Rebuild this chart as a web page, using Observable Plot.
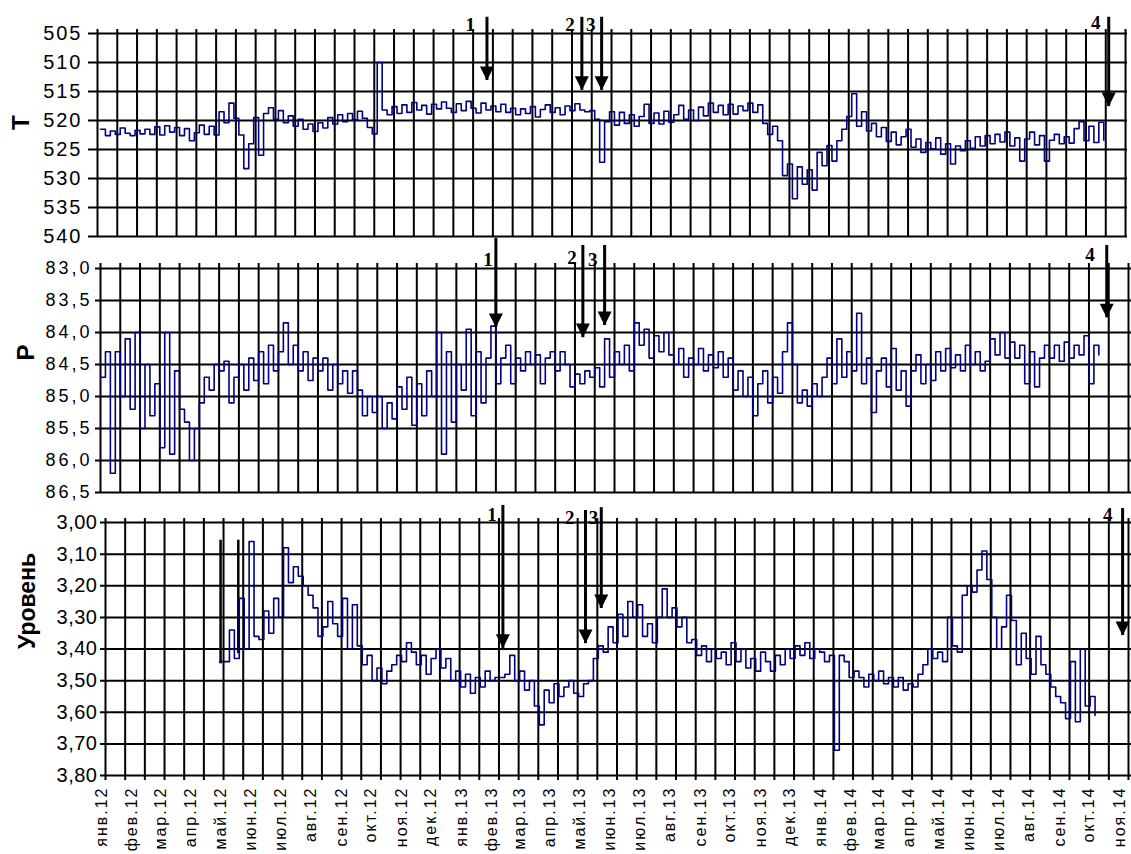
<!DOCTYPE html>
<html>
<head>
<meta charset="utf-8">
<script src="https://cdn.jsdelivr.net/npm/d3@7"></script>
<script src="https://cdn.jsdelivr.net/npm/@observablehq/plot@0.6"></script>
<style>
  body { margin: 0; background: #fff; }
  #chart { position: relative; width: 1131px; height: 854px; overflow: hidden; background: #fff; }
  #chart svg { position: absolute; left: 0; overflow: visible; }
</style>
</head>
<body>
<div id="chart"></div>
<script>
// ---------------- DATA ----------------
const startDate = "2012-01-01";   // first sample
const stepDays = 5;               // sampling step of the arrays below

// T (top panel), one value every 5 days from 2012-01-01
const tValues = [
  521.5, 522.6, 521.8, 522.4, 521.3, 522.2, 522.6, 521.7, 522.3, 521.5,
  522.4, 521.1, 522.5, 520.9, 522.0, 521.2, 522.6, 521.4, 523.5, 522.1,
  520.8, 522.4, 521.0, 522.5, 518.5, 520.4, 517.0, 519.6, 522.5, 528.3,
  524.0, 519.5, 526.0, 518.8, 517.8, 519.8, 518.3, 520.4, 519.2, 521.0,
  519.8, 521.5, 520.6, 521.9, 520.4, 521.3, 519.5, 520.6, 519.0, 520.2,
  518.8, 519.9, 518.4, 519.6, 521.2, 522.3, 510.0, 518.2, 519.0, 517.6,
  518.8, 517.3, 518.6, 516.9, 518.2, 517.4, 518.9, 517.2, 518.0, 516.8,
  517.9, 518.6, 517.1, 518.3, 516.7, 517.9, 518.7, 517.0, 518.2, 517.5,
  518.5, 517.2, 518.6, 517.9, 519.0, 518.0, 518.8, 517.6, 519.4, 518.1,
  517.3, 518.6, 517.8, 519.0, 517.5, 518.3, 517.1, 518.2, 518.5, 518.3,
  519.8, 527.2, 520.2, 518.5, 520.8, 518.6, 520.5, 519.0, 521.0, 519.3,
  517.2, 520.5, 518.7, 520.6, 518.4, 520.3, 519.0, 517.4, 519.8, 518.2,
  520.0, 517.7, 519.2, 517.0, 518.6, 517.4, 519.0, 517.2, 518.9, 517.5,
  518.3, 517.0, 518.6, 517.3, 520.5, 522.4, 521.0, 523.5, 529.5, 527.5,
  533.5, 528.0, 531.0, 528.5, 532.0, 525.5, 527.8, 524.3, 527.0, 523.5,
  521.5, 519.3, 515.4, 521.0, 518.5, 521.8, 520.5, 522.8, 521.2, 523.6,
  522.0, 524.2, 522.8, 521.5, 524.6, 523.2, 525.5, 523.8, 524.9, 523.0,
  525.8, 524.0, 527.5, 524.4, 525.2, 523.5, 524.8, 522.8, 524.4, 522.6,
  524.0, 522.4, 523.7, 522.0, 524.4, 523.0, 527.0, 523.2, 522.0, 524.2,
  522.6, 527.0, 523.4, 522.4, 524.0, 522.8, 523.9, 521.4, 520.2, 523.5,
  521.0, 523.8, 520.3, 523.4
];

// P (middle panel), one value every 5 days from 2012-01-01
const pValues = [
  84.7, 84.3, 86.2, 84.3, 85.0, 84.1, 85.2, 84.0, 85.5, 84.5,
  85.3, 84.8, 85.8, 84.0, 85.9, 84.6, 85.2, 85.4, 86.0, 85.5,
  85.1, 84.7, 84.9, 84.5, 84.6, 84.45, 85.1, 84.7, 84.5, 84.9,
  84.4, 84.75, 84.3, 84.8, 84.2, 84.6, 84.3, 83.85, 84.5, 84.2,
  84.6, 84.3, 84.75, 84.4, 84.6, 84.4, 84.9, 84.5, 84.8, 84.6,
  84.95, 84.6, 84.9, 85.3, 85.0, 85.25, 85.0, 85.5, 85.1, 85.35,
  84.85, 85.2, 84.7, 85.45, 84.8, 85.3, 84.6, 85.0, 84.0, 85.9,
  84.3, 85.4, 84.5, 84.9, 83.95, 85.3, 84.3, 85.1, 84.4, 83.9,
  84.8, 84.4, 84.2, 84.8, 84.4, 84.6, 84.3, 84.5, 84.35, 84.8,
  84.4, 84.3, 84.6, 84.3, 84.5, 84.85, 84.65, 84.8, 84.6, 84.7,
  84.55, 84.85, 84.1, 84.7, 84.3, 84.5, 84.2, 84.6, 83.85, 84.2,
  83.95, 84.4, 84.05, 84.3, 84.0, 84.35, 84.5, 84.25, 84.7, 84.4,
  84.5, 84.25, 84.6, 84.35, 84.55, 84.3, 84.7, 84.4, 84.9, 84.6,
  85.0, 84.7, 85.3, 84.8, 84.6, 85.1, 84.7, 84.95, 84.3, 83.85,
  84.5, 85.1, 84.9, 85.15, 84.8, 85.0, 84.7, 84.4, 84.8, 84.1,
  84.7, 84.3, 84.6, 83.7, 84.8, 84.4, 85.25, 84.6, 84.4, 84.85,
  84.25, 84.9, 84.6, 85.15, 84.6, 84.35, 84.8, 84.5, 84.75, 84.3,
  84.6, 84.25, 84.55, 84.35, 84.6, 84.2, 84.5, 84.3, 84.6, 84.45,
  84.1, 84.35, 84.0, 84.4, 84.15, 84.4, 84.2, 84.8, 84.3, 84.85,
  84.4, 84.2, 84.4, 84.2, 84.45, 84.15, 84.4, 84.2, 84.35, 84.05,
  84.8, 84.2, 84.35
];

// Уровень (bottom panel), starts at sample index 24 (5-day steps)
const levelStartIndex = 24;
const levelValues = [
  3.44, 3.44, 3.34, 3.43, 3.24, 3.40,
  3.06, 3.36, 3.37, 3.28, 3.35, 3.24, 3.30, 3.08, 3.19, 3.14,
  3.17, 3.20, 3.23, 3.27, 3.36, 3.33, 3.25, 3.32, 3.36, 3.24,
  3.40, 3.26, 3.39, 3.45, 3.42, 3.50, 3.46, 3.51, 3.47, 3.45,
  3.42, 3.44, 3.38, 3.41, 3.45, 3.42, 3.48, 3.43, 3.40, 3.46,
  3.43, 3.50, 3.47, 3.52, 3.48, 3.54, 3.49, 3.52, 3.47, 3.50,
  3.49, 3.49, 3.48, 3.42, 3.50, 3.47, 3.53, 3.50, 3.58, 3.64,
  3.53, 3.57, 3.51, 3.55, 3.52, 3.50, 3.54, 3.55, 3.51, 3.50,
  3.43, 3.39, 3.41, 3.33, 3.38, 3.29, 3.36, 3.25, 3.30, 3.26,
  3.36, 3.32, 3.38, 3.30, 3.21, 3.30, 3.27, 3.33, 3.30, 3.38,
  3.37, 3.42, 3.39, 3.44, 3.40, 3.43, 3.41, 3.45, 3.38, 3.44,
  3.40, 3.46, 3.43, 3.47, 3.41, 3.44, 3.47, 3.42, 3.45, 3.40,
  3.43, 3.39, 3.42, 3.38, 3.43, 3.40, 3.41, 3.44, 3.42, 3.72,
  3.42, 3.44, 3.49, 3.47, 3.49, 3.52, 3.48, 3.50, 3.47, 3.51,
  3.49, 3.52, 3.49, 3.53, 3.51, 3.52, 3.48, 3.45, 3.40, 3.43,
  3.41, 3.44, 3.30, 3.39, 3.41, 3.23, 3.20, 3.22, 3.15, 3.09,
  3.18, 3.30, 3.40, 3.33, 3.23, 3.31, 3.45, 3.35, 3.43, 3.48,
  3.36, 3.45, 3.48, 3.52, 3.55, 3.57, 3.62, 3.44, 3.63, 3.40,
  3.58, 3.55, 3.61
];

// black marker lines at the start of the level record
const levelMarkers = [
  {date: "2012-05-01", top: 3.056, bottom: 3.447},
  {date: "2012-05-19", top: 3.056, bottom: 3.415}
];

// tick values / labels
const tTicks = [505, 510, 515, 520, 525, 530, 535, 540];
const pTicks = [83.0, 83.5, 84.0, 84.5, 85.0, 85.5, 86.0, 86.5];
const levelTicks = [3.0, 3.1, 3.2, 3.3, 3.4, 3.5, 3.6, 3.7, 3.8];
const monthLabels = [
  "янв.12","фев.12","мар.12","апр.12","май.12","июн.12","июл.12","авг.12","сен.12","окт.12","ноя.12","дек.12",
  "янв.13","фев.13","мар.13","апр.13","май.13","июн.13","июл.13","авг.13","сен.13","окт.13","ноя.13","дек.13",
  "янв.14","фев.14","мар.14","апр.14","май.14","июн.14","июл.14","авг.14","сен.14","окт.14","ноя.14"
];

// event arrows (date, arrow top, arrow tip, label date/value) per panel
const arrowsT = [
  {label: "1", date: "2013-01-26", from: 502.2, to: 513.1, labelDate: "2013-01-09", labelY: 503.6},
  {label: "2", date: "2013-05-02", from: 502.2, to: 514.8, labelDate: "2013-04-20", labelY: 503.6},
  {label: "3", date: "2013-05-22", from: 502.2, to: 514.8, labelDate: "2013-05-11", labelY: 503.6},
  {label: "4", date: "2014-10-17", from: 502.2, to: 517.6, labelDate: "2014-10-04", labelY: 503.2}
];
const arrowsP = [
  {label: "1", date: "2013-02-04", from: 82.53, to: 83.92, labelDate: "2013-01-27", labelY: 82.86},
  {label: "2", date: "2013-05-03", from: 82.64, to: 84.08, labelDate: "2013-04-22", labelY: 82.84},
  {label: "3", date: "2013-05-25", from: 82.64, to: 83.89, labelDate: "2013-05-13", labelY: 82.86},
  {label: "4", date: "2014-10-15", from: 82.64, to: 83.77, labelDate: "2014-09-28", labelY: 82.78}
];
const arrowsL = [
  {label: "1", date: "2013-02-12", from: 2.946, to: 3.398, labelDate: "2013-02-01", labelY: 2.975},
  {label: "2", date: "2013-05-07", from: 2.962, to: 3.383, labelDate: "2013-04-21", labelY: 2.985},
  {label: "3", date: "2013-05-23", from: 2.953, to: 3.272, labelDate: "2013-05-15", labelY: 2.985},
  {label: "4", date: "2014-11-04", from: 2.956, to: 3.357, labelDate: "2014-10-20", labelY: 2.975}
];

// ---------------- HELPERS ----------------
const DAY = 864e5;
const t0 = new Date(startDate + "T00:00:00Z").getTime();
const sampleDate = i => new Date(t0 + i * stepDays * DAY);
const toDate = s => new Date(s + "T00:00:00Z");
const rows = (values, offset) => values.map((v, k) => ({date: sampleDate(offset + k), value: v}));
const parseArrows = a => a.map(d => ({...d, date: toDate(d.date), labelDate: toDate(d.labelDate)}));
const gridDates = domain => {
  const out = [];
  for (let t = +domain[0]; t <= +domain[1] + DAY; t += 20 * DAY) out.push(new Date(t));
  return out;
};
const utc = (y, m, d) => new Date(Date.UTC(y, m, d));

const SANS = "'Liberation Sans', Arial, sans-serif";
const SERIF = "'Liberation Serif', 'Times New Roman', serif";
const NAVY = "#000080";
const GRID = "#000";

const downTriangle = {
  draw(context) {
    context.moveTo(0, 0);
    context.lineTo(-7, -14);
    context.lineTo(7, -14);
    context.closePath();
  }
};

function arrowMarks(arrows) {
  const data = parseArrows(arrows);
  return [
    Plot.ruleX(data, {x: "date", y1: "from", y2: "to", stroke: "#000", strokeWidth: 3}),
    Plot.dot(data, {x: "date", y: "to", symbol: downTriangle, fill: "#000", stroke: "none", r: 6}),
    Plot.text(data, {x: "labelDate", y: "labelY", text: "label", fontFamily: SERIF,
      fontWeight: "bold", fontSize: 19, fill: "#000"})
  ];
}

const chart = document.getElementById("chart");
function place(svg, top, letterSpacing) {
  svg.style.top = top + "px";
  svg.style.background = "transparent";
  svg.querySelectorAll('g[aria-label="y-axis tick label"] text').forEach(t => t.style.letterSpacing = letterSpacing);
  svg.querySelectorAll('g[aria-label="x-axis tick label"] text').forEach(t => t.style.letterSpacing = "2px");
  chart.appendChild(svg);
}

const lineOpts = {x: "date", y: "value", stroke: NAVY, strokeWidth: 1.6, curve: "step-after"};

// ---------------- TOP PANEL (T) ----------------
const tDomain = [utc(2011, 11, 29), utc(2014, 10, 5)];
const topPlot = Plot.plot({
  width: 1131, height: 245,
  marginTop: 33, marginBottom: 9, marginLeft: 97, marginRight: 4,
  style: {fontFamily: SANS, background: "transparent", color: "#000", overflow: "visible"},
  x: {type: "utc", domain: tDomain, axis: null},
  y: {domain: [505, 540], reverse: true, axis: null},
  marks: [
    Plot.ruleY(tTicks, {stroke: GRID, strokeWidth: 2, insetLeft: -9}),
    Plot.ruleX(gridDates(tDomain), {stroke: GRID, strokeWidth: 2, insetTop: -4}),
    Plot.axisY(tTicks, {tickSize: 0, tickPadding: 15, fontSize: 20, tickFormat: d => String(d), fill: "#000"}),
    Plot.line(rows(tValues, 0), lineOpts),
    ...arrowMarks(arrowsT),
    Plot.text(["T"], {text: d => d, frameAnchor: "left", dx: -76, dy: -5, rotate: -90,
      fontSize: 24, fontWeight: "bold", fill: "#000"})
  ]
});
place(topPlot, 0, "2px");

// ---------------- MIDDLE PANEL (P) ----------------
const pDomain = [utc(2012, 0, 1), utc(2014, 10, 6)];
const midPlot = Plot.plot({
  width: 1131, height: 257,
  marginTop: 30, marginBottom: 3, marginLeft: 100, marginRight: 3,
  style: {fontFamily: SANS, background: "transparent", color: "#000", overflow: "visible"},
  x: {type: "utc", domain: pDomain, axis: null},
  y: {domain: [83, 86.5], reverse: true, axis: null},
  marks: [
    Plot.ruleY(pTicks, {stroke: GRID, strokeWidth: 2, insetLeft: -5, insetRight: -3}),
    Plot.ruleX(gridDates(pDomain), {stroke: GRID, strokeWidth: 2, insetTop: -5}),
    Plot.axisY(pTicks, {tickSize: 0, tickPadding: 8, fontSize: 18,
      tickFormat: d => d.toFixed(1).replace(".", ","), fill: "#000"}),
    Plot.line(rows(pValues, 0), lineOpts),
    ...arrowMarks(arrowsP),
    Plot.text(["P"], {text: d => d, frameAnchor: "left", dx: -74, dy: -20, rotate: -90,
      fontSize: 24, fontWeight: "bold", fill: "#000"})
  ]
});
place(midPlot, 238, "3px");

// ---------------- BOTTOM PANEL (Уровень) ----------------
const lDomain = [utc(2012, 0, 5), utc(2014, 10, 10)];
const monthDates = d3.utcMonth.range(utc(2012, 0, 1), utc(2014, 10, 2));
const monthLabelByTime = new Map(monthDates.map((d, i) => [+d, monthLabels[i]]));
const markers = levelMarkers.map(d => ({...d, date: toDate(d.date)}));
const botPlot = Plot.plot({
  width: 1131, height: 359,
  marginTop: 27, marginBottom: 79, marginLeft: 105, marginRight: 3,
  style: {fontFamily: SANS, background: "transparent", color: "#000", overflow: "visible"},
  x: {type: "utc", domain: lDomain, axis: null},
  y: {domain: [3.0, 3.8], reverse: true, axis: null},
  marks: [
    Plot.ruleY(levelTicks, {stroke: GRID, strokeWidth: 2, insetLeft: -5, insetRight: -3}),
    Plot.ruleX(gridDates(lDomain), {stroke: GRID, strokeWidth: 2, insetTop: -4, insetBottom: -5}),
    Plot.axisY(levelTicks, {tickSize: 0, tickPadding: 8, fontSize: 20,
      tickFormat: d => d.toFixed(2).replace(".", ","), fill: "#000"}),
    Plot.axisX(monthDates, {tickSize: 0, tickPadding: 11, tickRotate: -90, fontSize: 16,
      tickFormat: d => monthLabelByTime.get(+d), fill: "#000"}),
    Plot.ruleX(markers, {x: "date", y1: "top", y2: "bottom", stroke: "#000", strokeWidth: 2.5}),
    Plot.line(rows(levelValues, levelStartIndex), lineOpts),
    ...arrowMarks(arrowsL),
    Plot.text(["Уровень"], {text: d => d, frameAnchor: "left", dx: -78, dy: 0, rotate: -90,
      fontSize: 23, fontWeight: "bold", fill: "#000"})
  ]
});
place(botPlot, 495, "0.5px");
</script>
</body>
</html>
